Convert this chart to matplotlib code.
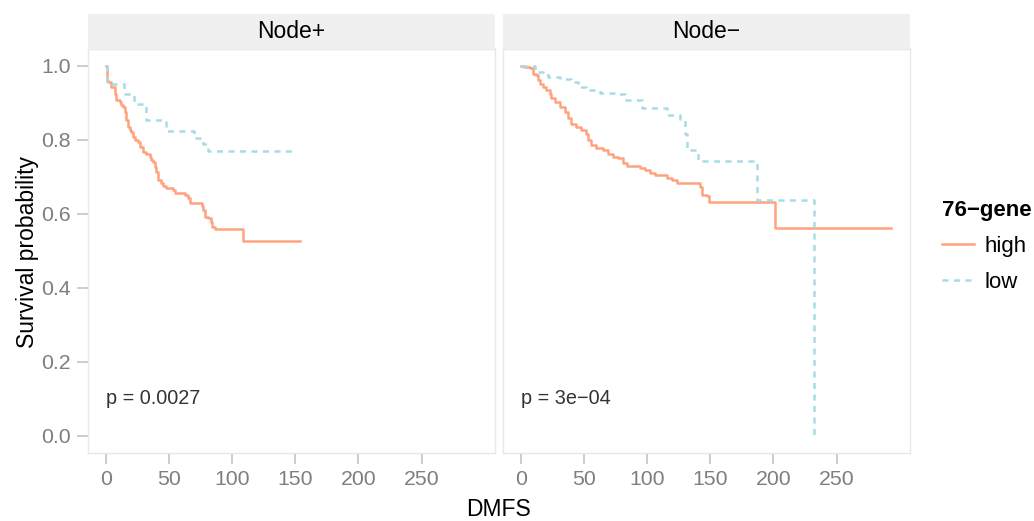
import numpy as np
import matplotlib
matplotlib.use('Agg')
import matplotlib.pyplot as plt
from matplotlib.lines import Line2D

plt.rcParams['font.family'] = ['Liberation Sans', 'DejaVu Sans']

# Kaplan-Meier curves: step times (DMFS) and survival after each step
node_pos_high_t = [0, 0.5, 1.6, 4.3, 6.9, 8.3, 10.9, 12.2, 13.5, 14.8, 16.2, 17.5, 18.8, 20.1,
                   21.4, 22.8, 25.4, 26.7, 29.4, 32.0, 34.7, 36.0, 37.3, 38.7, 40.0, 41.3, 43.4,
                   45.3, 47.9, 53.2, 54.5, 62.5, 65.1, 66.5, 75.8, 77.1, 78.4, 81.1, 83.2, 84.3,
                   86.4, 108.3, 153.9]
node_pos_high_s = [1.0, 0.961, 0.957, 0.943, 0.925, 0.907, 0.903, 0.894, 0.889, 0.876, 0.853,
                   0.835, 0.826, 0.822, 0.808, 0.799, 0.795, 0.781, 0.768, 0.763, 0.754, 0.745,
                   0.741, 0.727, 0.714, 0.691, 0.682, 0.676, 0.669, 0.664, 0.655, 0.652, 0.642,
                   0.628, 0.622, 0.610, 0.592, 0.588, 0.579, 0.565, 0.558, 0.526, 0.526]

node_pos_low_t = [0, 0.5, 14.3, 22.2, 32.0, 47.9, 70.0, 76.5, 81.1, 149.8]
node_pos_low_s = [1.0, 0.952, 0.925, 0.896, 0.853, 0.824, 0.806, 0.790, 0.770, 0.770]

node_neg_high_t = [0, 2.5, 6.9, 9.5, 12.2, 13.5, 14.8, 17.5, 20.1, 22.8, 24.1, 26.7, 30.7, 34.7,
                   37.3, 40.0, 43.9, 47.9, 51.3, 53.2, 55.8, 59.8, 65.1, 69.1, 73.0, 77.0, 81.0,
                   83.6, 94.2, 98.2, 102.1, 106.1, 115.4, 119.3, 123.3, 141.8, 143.2, 147.1,
                   149.2, 201.4, 293.1]
node_neg_high_s = [1.0, 0.997, 0.993, 0.979, 0.975, 0.961, 0.952, 0.943, 0.934, 0.925, 0.912,
                   0.903, 0.889, 0.876, 0.858, 0.844, 0.835, 0.826, 0.817, 0.799, 0.786, 0.777,
                   0.772, 0.763, 0.754, 0.750, 0.736, 0.729, 0.723, 0.718, 0.711, 0.705, 0.696,
                   0.691, 0.682, 0.673, 0.651, 0.649, 0.631, 0.561, 0.561]

node_neg_low_t = [0, 10.9, 21.4, 30.7, 40.0, 45.2, 51.9, 62.5, 74.4, 82.3, 95.5, 115.4, 126.0,
                  130.0, 131.3, 140.5, 186.8, 231.7]
node_neg_low_s = [1.0, 0.984, 0.971, 0.964, 0.957, 0.943, 0.936, 0.927, 0.924, 0.909, 0.885,
                  0.867, 0.853, 0.817, 0.772, 0.743, 0.637, 0.0]

panels = ['Node+', 'Node\u2212']
p_values = ['p = 0.0027', 'p = 3e\u221204']
groups = ['high', 'low']
legend_title = '76\u2212gene'
x_ticks = [0, 50, 100, 150, 200, 250]
y_ticks = [0.0, 0.2, 0.4, 0.6, 0.8, 1.0]

curves = [
    [(node_pos_high_t, node_pos_high_s), (node_pos_low_t, node_pos_low_s)],
    [(node_neg_high_t, node_neg_high_s), (node_neg_low_t, node_neg_low_s)],
]

col_high = '#FFA27E'
col_low = '#A6DCE5'
tick_col = '#C8C8C8'
lab_col = '#7F7F7F'
border_col = '#E8E8E8'
lw = 1.8
dash = (0, (2.4, 2.2))

W, H = 1034, 521
fig = plt.figure(figsize=(W / 100, H / 100), dpi=100)

panel_left = [87.5, 502.5]
panel_w = 407
panel_top, panel_bot = 48.5, 453
strip_top = 14

xlim = (-14.6, 307.7)
ylim = (-0.047, 1.047)

axes = []
for i, name in enumerate(panels):
    x0 = panel_left[i]
    ax = fig.add_axes([x0 / W, (H - panel_bot) / H, panel_w / W, (panel_bot - panel_top) / H])
    (th, sh), (tl, sl) = curves[i]
    ax.step(th, sh, where='post', color=col_high, lw=lw, label=groups[0])
    ax.step(tl, sl, where='post', color=col_low, lw=lw, ls=dash, label=groups[1])
    ax.text(0, 0.1, p_values[i], fontsize=14.3, color='#333333', ha='left', va='center')
    ax.set_xlim(*xlim)
    ax.set_ylim(*ylim)
    ax.set_xticks(x_ticks)
    ax.set_yticks(y_ticks)
    ax.set_yticklabels([f'{v:.1f}' for v in y_ticks])
    for s in ax.spines.values():
        s.set_color(border_col)
        s.set_linewidth(1.0)
    ax.tick_params(axis='both', length=8, width=1.3, color=tick_col, labelcolor=lab_col,
                   labelsize=15.3, pad=4)
    if i > 0:
        ax.tick_params(axis='y', left=False, labelleft=False)
    # facet strip
    sax = fig.add_axes([x0 / W, (H - panel_top) / H, panel_w / W, (panel_top - strip_top) / H])
    sax.set_facecolor('#F0F0F0')
    sax.set_xticks([])
    sax.set_yticks([])
    for s in sax.spines.values():
        s.set_visible(False)
    sax.text(0.5, 0.5, name, transform=sax.transAxes, ha='center', va='center',
             fontsize=16.5, color='black')
    axes.append(ax)

fig.text(28 / W, 1 - 252 / H, 'Survival probability', rotation=90, ha='center', va='center',
         fontsize=16.5, color='black')
fig.text(498 / W, 1 - 510 / H, 'DMFS', ha='center', va='center', fontsize=16.5, color='black')

handles = [Line2D([], [], color=col_high, lw=lw),
           Line2D([], [], color=col_low, lw=lw, ls=dash)]
leg = fig.legend(handles, groups, title=legend_title, loc='upper left',
                 bbox_to_anchor=(922 / W, 1 - 180 / H), frameon=False, fontsize=16,
                 handlelength=1.45, handletextpad=0.45, labelspacing=0.68,
                 title_fontproperties={'weight': 'bold', 'size': 16})
leg._legend_box.align = 'left'

fig.savefig('out.png', dpi=100)
